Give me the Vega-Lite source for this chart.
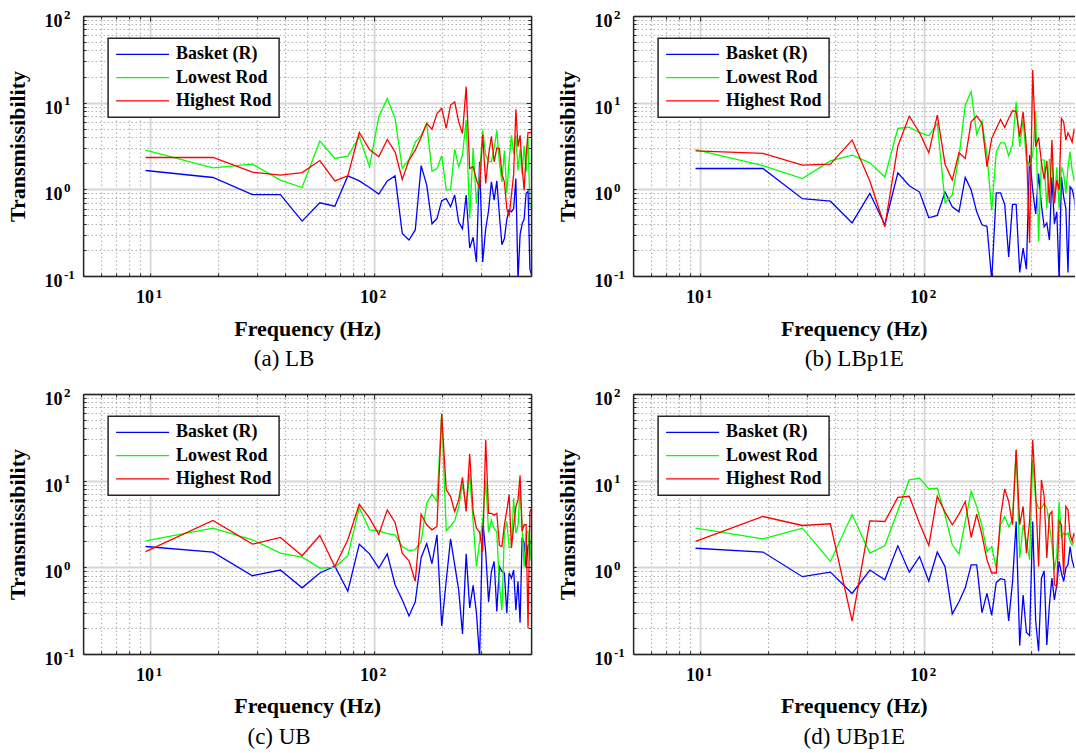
{
  "$schema": "https://vega.github.io/schema/vega-lite/v6.json",
  "background": "white",
  "autosize": {"type": "pad"},
  "padding": {"left": 6.1, "top": 8, "right": 0, "bottom": 0},
  "config": {
    "view": {"stroke": null},
    "font": "Liberation Serif",
    "axis": {"labelFont": "Liberation Serif", "labelFontSize": 18, "labelFontWeight": "bold", "labelColor": "#000000", "titleFont": "Liberation Serif", "titleFontSize": 22, "titleFontWeight": "bold", "titleColor": "#000000", "domainColor": "#262626", "domainWidth": 1.5, "tickColor": "#262626", "tickWidth": 1, "labelOverlap": false, "labelFlush": false, "labelBound": false},
    "legend": {"symbolType": "stroke", "symbolSize": 2809, "symbolStrokeWidth": 1.3, "clipHeight": 18, "rowPadding": 5.3, "padding": 7, "labelOffset": 6, "strokeColor": "#262626", "strokeWidth": 1.5, "fillColor": "#ffffff", "labelFont": "Liberation Serif", "labelFontSize": 18, "labelFontWeight": "bold", "labelColor": "#000000", "labelLimit": 300, "symbolOffset": 0},
    "title": {"orient": "bottom", "anchor": "middle", "frame": "group", "font": "Liberation Serif", "fontSize": 23, "fontWeight": "normal", "color": "#000000", "offset": 9}
  },
  "datasets": {
    "a": [
      {"f": 9.5, "B": 1.65, "L": 2.83, "H": 2.33}, {"f": 19, "B": 1.37, "L": 1.77, "H": 2.33}, {"f": 28.5, "B": 0.87, "L": 1.95, "H": 1.58}, {"f": 38, "B": 0.87, "L": 1.28, "H": 1.46}, {"f": 47.5, "B": 0.43, "L": 1.05, "H": 1.56}, {"f": 57, "B": 0.70, "L": 3.6, "H": 2.15}, {"f": 66.5, "B": 0.64, "L": 2.27, "H": 1.25}, {"f": 76, "B": 1.43, "L": 2.42, "H": 1.43}, {"f": 85.5, "B": 1.25, "L": 4.04, "H": 4.53}, {"f": 95, "B": 1.05, "L": 1.82, "H": 2.88},
      {"f": 104.5, "B": 0.88, "L": 6.9, "H": 2.37}, {"f": 114, "B": 1.25, "L": 11.2, "H": 3.76}, {"f": 123.5, "B": 1.43, "L": 6.6, "H": 2.71}, {"f": 133, "B": 0.31, "L": 1.74, "H": 1.3}, {"f": 142.5, "B": 0.26, "L": 2.2, "H": 2.17}, {"f": 152, "B": 0.34, "L": 3.5, "H": 2.83}, {"f": 161.5, "B": 1.88, "L": 4.2, "H": 4.0}, {"f": 171, "B": 1.12, "L": 5.75, "H": 5.75}, {"f": 180.5, "B": 0.40, "L": 1.62, "H": 4.95}, {"f": 190, "B": 0.46, "L": 1.74, "H": 7.5},
      {"f": 199.5, "B": 0.74, "L": 2.44, "H": 8.6}, {"f": 209, "B": 0.78, "L": 0.98, "H": 5.04}, {"f": 218.5, "B": 0.63, "L": 1.0, "H": 9.4}, {"f": 228, "B": 0.86, "L": 2.9, "H": 10.2}, {"f": 237.5, "B": 0.42, "L": 1.82, "H": 6.0}, {"f": 247, "B": 0.35, "L": 2.5, "H": 4.4}, {"f": 256.5, "B": 0.86, "L": 6.3, "H": 15.3}, {"f": 266, "B": 0.21, "L": 0.46, "H": 1.74}, {"f": 275.5, "B": 0.28, "L": 3.0, "H": 1.82}, {"f": 285, "B": 0.145, "L": 0.69, "H": 1.3},
      {"f": 294.5, "B": 2.08, "L": 1.5, "H": 1.02}, {"f": 304, "B": 0.145, "L": 4.8, "H": 4.3}, {"f": 313.5, "B": 0.35, "L": 2.5, "H": 1.17}, {"f": 323, "B": 0.57, "L": 2.1, "H": 2.5}, {"f": 332.5, "B": 1.22, "L": 2.08, "H": 4.1}, {"f": 342, "B": 0.75, "L": 3.0, "H": 2.08}, {"f": 351.5, "B": 1.25, "L": 4.8, "H": 3.0}, {"f": 361, "B": 0.5, "L": 2.0, "H": 2.96}, {"f": 370.5, "B": 0.23, "L": 1.22, "H": 1.5}, {"f": 380, "B": 0.27, "L": 2.8, "H": 1.22},
      {"f": 389.5, "B": 0.45, "L": 0.9, "H": 0.6}, {"f": 399, "B": 0.58, "L": 2.2, "H": 0.49}, {"f": 408.5, "B": 0.55, "L": 4.2, "H": 0.86}, {"f": 418, "B": 0.6, "L": 2.6, "H": 1.5}, {"f": 427.5, "B": 1.33, "L": 4.2, "H": 8.4}, {"f": 437, "B": 0.09, "L": 1.65, "H": 3.1}, {"f": 446.5, "B": 0.3, "L": 2.9, "H": 4.2}, {"f": 456, "B": 0.4, "L": 1.5, "H": 1.8}, {"f": 465.5, "B": 0.45, "L": 3.2, "H": 0.98}, {"f": 475, "B": 0.9, "L": 1.6, "H": 2.5},
      {"f": 484.5, "B": 0.95, "L": 4.0, "H": 4.5}, {"f": 494, "B": 0.12, "L": 0.63, "H": 4.5}, {"f": 503.5, "B": 0.1, "L": 0.6, "H": 4.5}
    ],
    "b": [
      {"f": 9.5, "B": 1.74, "L": 2.88, "H": 2.78}, {"f": 19, "B": 1.74, "L": 1.88, "H": 2.60}, {"f": 28.5, "B": 0.78, "L": 1.33, "H": 1.90}, {"f": 38, "B": 0.73, "L": 2.13, "H": 1.95}, {"f": 47.5, "B": 0.41, "L": 2.48, "H": 3.7}, {"f": 57, "B": 0.90, "L": 2.02, "H": 1.25}, {"f": 66.5, "B": 0.39, "L": 1.39, "H": 0.37}, {"f": 76, "B": 1.55, "L": 5.04, "H": 3.15}, {"f": 85.5, "B": 1.1, "L": 5.2, "H": 7.0}, {"f": 95, "B": 0.93, "L": 4.5, "H": 4.5},
      {"f": 104.5, "B": 0.47, "L": 4.15, "H": 2.64}, {"f": 114, "B": 0.50, "L": 5.75, "H": 7.2}, {"f": 123.5, "B": 0.93, "L": 0.70, "H": 1.95}, {"f": 133, "B": 0.63, "L": 0.86, "H": 1.28}, {"f": 142.5, "B": 0.55, "L": 2.37, "H": 2.64}, {"f": 152, "B": 1.37, "L": 9.4, "H": 2.27}, {"f": 161.5, "B": 0.98, "L": 13.4, "H": 6.0}, {"f": 171, "B": 0.55, "L": 4.3, "H": 7.0}, {"f": 180.5, "B": 0.39, "L": 6.1, "H": 5.75}, {"f": 190, "B": 0.375, "L": 2.5, "H": 1.82},
      {"f": 199.5, "B": 0.09, "L": 0.57, "H": 3.86}, {"f": 209, "B": 0.91, "L": 2.71, "H": 5.0}, {"f": 218.5, "B": 0.91, "L": 3.44, "H": 6.4}, {"f": 228, "B": 0.67, "L": 3.44, "H": 5.17}, {"f": 237.5, "B": 0.166, "L": 2.44, "H": 6.6}, {"f": 247, "B": 0.67, "L": 3.24, "H": 8.05}, {"f": 256.5, "B": 0.67, "L": 10.2, "H": 7.9}, {"f": 266, "B": 0.11, "L": 3.1, "H": 4.04}, {"f": 275.5, "B": 0.21, "L": 6.3, "H": 7.85}, {"f": 285, "B": 0.12, "L": 2.17, "H": 3.1},
      {"f": 294.5, "B": 2.48, "L": 1.9, "H": 0.24}, {"f": 304, "B": 0.98, "L": 2.5, "H": 23.8}, {"f": 313.5, "B": 0.52, "L": 8.0, "H": 3.1}, {"f": 323, "B": 1.52, "L": 0.25, "H": 3.97}, {"f": 332.5, "B": 0.66, "L": 2.2, "H": 2.08}, {"f": 342, "B": 0.37, "L": 2.17, "H": 1.3}, {"f": 351.5, "B": 0.41, "L": 0.6, "H": 2.13}, {"f": 361, "B": 0.26, "L": 2.2, "H": 0.69}, {"f": 370.5, "B": 1.39, "L": 2.17, "H": 3.7}, {"f": 380, "B": 0.40, "L": 0.69, "H": 0.69},
      {"f": 389.5, "B": 0.55, "L": 1.8, "H": 1.28}, {"f": 399, "B": 0.09, "L": 0.6, "H": 0.98}, {"f": 408.5, "B": 1.39, "L": 1.82, "H": 6.6}, {"f": 418, "B": 0.82, "L": 1.5, "H": 6.0}, {"f": 427.5, "B": 0.6, "L": 0.9, "H": 3.7}, {"f": 437, "B": 0.11, "L": 1.82, "H": 4.5}, {"f": 446.5, "B": 1.07, "L": 2.71, "H": 4.0}, {"f": 456, "B": 1.0, "L": 1.66, "H": 3.5}, {"f": 465.5, "B": 0.8, "L": 1.28, "H": 5.0}, {"f": 475, "B": 0.5, "L": 1.5, "H": 4.0},
      {"f": 484.5, "B": 0.3, "L": 1.0, "H": 3.0}, {"f": 494, "B": 0.5, "L": 2.0, "H": 4.0}, {"f": 503.5, "B": 0.5, "L": 1.5, "H": 4.0}
    ],
    "c": [
      {"f": 9.5, "B": 1.74, "L": 2.02, "H": 1.52}, {"f": 19, "B": 1.50, "L": 2.83, "H": 3.47}, {"f": 28.5, "B": 0.80, "L": 2.08, "H": 1.85}, {"f": 38, "B": 0.93, "L": 1.46, "H": 2.21}, {"f": 47.5, "B": 0.58, "L": 1.31, "H": 1.36}, {"f": 57, "B": 0.86, "L": 0.98, "H": 2.33}, {"f": 66.5, "B": 1.03, "L": 1.0, "H": 1.02}, {"f": 76, "B": 0.53, "L": 1.36, "H": 2.08}, {"f": 85.5, "B": 1.85, "L": 4.9, "H": 5.35}, {"f": 95, "B": 1.43, "L": 2.71, "H": 3.7},
      {"f": 104.5, "B": 0.98, "L": 2.64, "H": 2.4}, {"f": 114, "B": 1.43, "L": 2.45, "H": 4.6}, {"f": 123.5, "B": 0.63, "L": 2.37, "H": 3.3}, {"f": 133, "B": 0.42, "L": 1.74, "H": 1.46}, {"f": 142.5, "B": 0.275, "L": 1.56, "H": 1.19}, {"f": 152, "B": 0.40, "L": 1.6, "H": 0.69}, {"f": 161.5, "B": 1.30, "L": 1.99, "H": 4.1}, {"f": 171, "B": 1.88, "L": 5.5, "H": 3.1}, {"f": 180.5, "B": 1.10, "L": 7.0, "H": 2.71}, {"f": 190, "B": 2.37, "L": 5.75, "H": 2.96},
      {"f": 199.5, "B": 0.21, "L": 60, "H": 58.8}, {"f": 209, "B": 0.7, "L": 2.64, "H": 7.85}, {"f": 218.5, "B": 2.13, "L": 3.0, "H": 6.6}, {"f": 228, "B": 1.07, "L": 3.44, "H": 4.4}, {"f": 237.5, "B": 0.55, "L": 5.0, "H": 6.0}, {"f": 247, "B": 0.17, "L": 9.0, "H": 10.9}, {"f": 256.5, "B": 1.43, "L": 5.0, "H": 4.4}, {"f": 266, "B": 0.34, "L": 12.0, "H": 20.3}, {"f": 275.5, "B": 0.62, "L": 3.44, "H": 4.4}, {"f": 285, "B": 0.3, "L": 1.02, "H": 2.83},
      {"f": 294.5, "B": 0.09, "L": 2.0, "H": 2.55}, {"f": 304, "B": 3.53, "L": 3.4, "H": 1.52}, {"f": 313.5, "B": 1.5, "L": 10.0, "H": 29.7}, {"f": 323, "B": 0.40, "L": 2.55, "H": 4.2}, {"f": 332.5, "B": 0.90, "L": 3.5, "H": 4.2}, {"f": 342, "B": 1.17, "L": 2.8, "H": 4.0}, {"f": 351.5, "B": 0.31, "L": 2.55, "H": 4.2}, {"f": 361, "B": 1.02, "L": 0.63, "H": 1.79}, {"f": 370.5, "B": 0.9, "L": 0.32, "H": 1.74}, {"f": 380, "B": 0.86, "L": 2.55, "H": 3.1},
      {"f": 389.5, "B": 0.295, "L": 3.4, "H": 4.5}, {"f": 399, "B": 0.86, "L": 1.7, "H": 6.9}, {"f": 408.5, "B": 0.75, "L": 1.69, "H": 1.69}, {"f": 418, "B": 0.93, "L": 6.3, "H": 2.96}, {"f": 427.5, "B": 0.32, "L": 2.48, "H": 5.0}, {"f": 437, "B": 0.69, "L": 3.0, "H": 6.0}, {"f": 446.5, "B": 0.23, "L": 8.2, "H": 11.5}, {"f": 456, "B": 2.23, "L": 3.0, "H": 2.6}, {"f": 465.5, "B": 1.9, "L": 1.02, "H": 3.1}, {"f": 475, "B": 1.0, "L": 2.48, "H": 3.1},
      {"f": 484.5, "B": 1.8, "L": 2.6, "H": 0.20}, {"f": 494, "B": 1.9, "L": 1.2, "H": 4.4}, {"f": 503.5, "B": 1.9, "L": 2.5, "H": 4.8}
    ],
    "d": [
      {"f": 9.5, "B": 1.66, "L": 2.83, "H": 1.99}, {"f": 19, "B": 1.50, "L": 2.13, "H": 3.86}, {"f": 28.5, "B": 0.78, "L": 2.83, "H": 3.04}, {"f": 38, "B": 0.88, "L": 1.17, "H": 3.18}, {"f": 47.5, "B": 0.50, "L": 4.04, "H": 0.24}, {"f": 57, "B": 0.93, "L": 1.46, "H": 3.44}, {"f": 66.5, "B": 0.72, "L": 1.77, "H": 3.38}, {"f": 76, "B": 1.77, "L": 4.5, "H": 6.4}, {"f": 85.5, "B": 0.88, "L": 10.2, "H": 6.6}, {"f": 95, "B": 1.33, "L": 10.7, "H": 3.2},
      {"f": 104.5, "B": 0.69, "L": 8.05, "H": 1.79}, {"f": 114, "B": 1.50, "L": 8.2, "H": 6.6}, {"f": 123.5, "B": 1.02, "L": 4.04, "H": 4.34}, {"f": 133, "B": 0.29, "L": 1.82, "H": 3.1}, {"f": 142.5, "B": 0.40, "L": 1.42, "H": 4.1}, {"f": 152, "B": 0.58, "L": 3.38, "H": 5.75}, {"f": 161.5, "B": 1.07, "L": 7.5, "H": 2.21}, {"f": 171, "B": 1.07, "L": 5.04, "H": 4.1}, {"f": 180.5, "B": 0.30, "L": 3.0, "H": 2.37}, {"f": 190, "B": 0.50, "L": 1.52, "H": 1.22},
      {"f": 199.5, "B": 0.28, "L": 1.74, "H": 0.86}, {"f": 209, "B": 0.67, "L": 0.98, "H": 0.86}, {"f": 218.5, "B": 0.74, "L": 3.1, "H": 3.86}, {"f": 228, "B": 0.72, "L": 3.86, "H": 8.05}, {"f": 237.5, "B": 0.24, "L": 2.96, "H": 5.75}, {"f": 247, "B": 0.67, "L": 3.53, "H": 3.1}, {"f": 256.5, "B": 3.38, "L": 22.7, "H": 22.7}, {"f": 266, "B": 0.125, "L": 1.28, "H": 3.1}, {"f": 275.5, "B": 0.48, "L": 3.1, "H": 5.04}, {"f": 285, "B": 0.177, "L": 2.0, "H": 1.46},
      {"f": 294.5, "B": 0.163, "L": 1.22, "H": 3.38}, {"f": 304, "B": 3.38, "L": 17.4, "H": 29.7}, {"f": 313.5, "B": 0.24, "L": 6.0, "H": 7.2}, {"f": 323, "B": 0.108, "L": 4.8, "H": 1.02}, {"f": 332.5, "B": 0.75, "L": 4.8, "H": 10.2}, {"f": 342, "B": 0.91, "L": 5.5, "H": 6.6}, {"f": 351.5, "B": 0.127, "L": 4.8, "H": 1.28}, {"f": 361, "B": 0.37, "L": 3.1, "H": 4.04}, {"f": 370.5, "B": 0.75, "L": 1.82, "H": 4.4}, {"f": 380, "B": 0.42, "L": 0.93, "H": 0.63},
      {"f": 389.5, "B": 0.63, "L": 1.39, "H": 0.60}, {"f": 399, "B": 1.17, "L": 5.75, "H": 3.44}, {"f": 408.5, "B": 0.86, "L": 2.17, "H": 3.1}, {"f": 418, "B": 0.69, "L": 2.48, "H": 0.82}, {"f": 427.5, "B": 0.98, "L": 2.37, "H": 5.04}, {"f": 437, "B": 1.07, "L": 2.5, "H": 4.6}, {"f": 446.5, "B": 1.74, "L": 2.0, "H": 2.37}, {"f": 456, "B": 1.2, "L": 1.8, "H": 2.0}, {"f": 465.5, "B": 1.0, "L": 2.0, "H": 2.5}, {"f": 475, "B": 1.0, "L": 2.0, "H": 2.0},
      {"f": 484.5, "B": 1.0, "L": 2.0, "H": 2.0}, {"f": 494, "B": 1.0, "L": 2.0, "H": 2.0}, {"f": 503.5, "B": 1.0, "L": 2.0, "H": 2.0}
    ]
  },
  "columns": 2,
  "spacing": {"row": 118, "column": 102},
  "bounds": "flush",
  "resolve": {"scale": {"color": "independent", "x": "independent", "y": "independent"}, "legend": {"color": "independent"}},
  "concat": [
    {
      "width": 448, "height": 260,
      "data": {"name": "a"},
      "transform": [{"fold": ["B", "L", "H"], "as": ["s", "v"]}],
      "title": {"text": "(a) LB", "dx": -23},
      "resolve": {"axis": {"x": "independent", "y": "independent"}},
      "layer": [
        {
          "mark": {"type": "line", "clip": true, "strokeWidth": 1.3},
          "encoding": {
            "x": {"field": "f", "type": "quantitative", "scale": {"type": "log", "domain": [5, 500], "nice": false},
              "axis": {"orient": "bottom", "values": [5,6,7,8,9,10,20,30,40,50,60,70,80,90,100,200,300,400,500], "labelExpr": "datum.value == 10 || datum.value == 100 ? '10' : ''", "labelAlign": "right", "labelOffset": 3, "grid": true,
                "gridColor": {"condition": {"test": "datum.value == 10 || datum.value == 100", "value": "#d6d6d6"}, "value": "#b0b0b0"},
                "gridDash": {"condition": {"test": "datum.value == 10 || datum.value == 100", "value": []}, "value": [1.5, 2.5]},
                "gridWidth": {"condition": {"test": "datum.value == 10 || datum.value == 100", "value": 1.8}, "value": 1.1},
                "tickSize": -3, "labelPadding": 15.5, "minExtent": 30, "maxExtent": 30, "title": "Frequency (Hz)", "titlePadding": 12}},
            "y": {"field": "v", "type": "quantitative", "scale": {"type": "log", "domain": [0.1, 100], "nice": false},
              "axis": {"orient": "left", "values": [0.1,0.2,0.3,0.4,0.5,0.6,0.7,0.8,0.9,1,2,3,4,5,6,7,8,9,10,20,30,40,50,60,70,80,90,100], "labelExpr": "datum.value == 0.1 || datum.value == 1 || datum.value == 10 || datum.value == 100 ? '10' : ''", "grid": true,
                "gridColor": {"condition": {"test": "datum.value == 0.1 || datum.value == 1 || datum.value == 10 || datum.value == 100", "value": "#d6d6d6"}, "value": "#b0b0b0"},
                "gridDash": {"condition": {"test": "datum.value == 0.1 || datum.value == 1 || datum.value == 10 || datum.value == 100", "value": []}, "value": [1.5, 2.5]},
                "gridWidth": {"condition": {"test": "datum.value == 0.1 || datum.value == 1 || datum.value == 10 || datum.value == 100", "value": 1.8}, "value": 1.1},
                "tickSize": -3, "labelPadding": 24.1, "labelOffset": 5.5, "minExtent": 44, "maxExtent": 44, "title": "Transmissibility", "titlePadding": 10}},
            "color": {"field": "s", "type": "nominal", "scale": {"domain": ["B", "L", "H"], "range": ["#0000ff", "#00ff00", "#ff0000"]},
              "legend": {"title": null, "orient": "none", "legendX": 25, "legendY": 22.3, "labelExpr": "datum.value == 'B' ? 'Basket (R)' : datum.value == 'L' ? 'Lowest Rod' : 'Highest Rod'"}}
          }
        },
        {
          "mark": {"type": "line", "clip": true, "opacity": 0},
          "encoding": {
            "x": {"field": "f", "type": "quantitative", "scale": {"type": "log", "domain": [5, 500], "nice": false},
              "axis": {"orient": "top", "values": [5,6,7,8,9,10,20,30,40,50,60,70,80,90,100,200,300,400,500], "labels": false, "grid": false, "title": null, "zindex": 1,
                "tickSize": {"condition": {"test": "datum.value == 10 || datum.value == 100", "value": -5}, "value": -3}}},
            "y": {"field": "v", "type": "quantitative", "scale": {"type": "log", "domain": [0.1, 100], "nice": false},
              "axis": {"orient": "right", "values": [0.1,0.2,0.3,0.4,0.5,0.6,0.7,0.8,0.9,1,2,3,4,5,6,7,8,9,10,20,30,40,50,60,70,80,90,100], "labels": false, "grid": false, "title": null, "zindex": 1,
                "tickSize": {"condition": {"test": "datum.value == 0.1 || datum.value == 1 || datum.value == 10 || datum.value == 100", "value": -5}, "value": -3}}},
            "detail": {"field": "s"}
          }
        },
        {
          "mark": {"type": "line", "clip": true, "opacity": 0},
          "encoding": {
            "x": {"field": "f", "type": "quantitative", "scale": {"type": "log", "domain": [5, 500], "nice": false},
              "axis": {"orient": "bottom", "values": [10, 100], "labelExpr": "datum.value == 10 ? '1' : '2'", "labelAlign": "left", "labelOffset": 4.7, "labelPadding": 11.4, "labelFontSize": 13, "ticks": false, "domain": false, "grid": false, "title": null}},
            "y": {"field": "v", "type": "quantitative", "scale": {"type": "log", "domain": [0.1, 100], "nice": false},
              "axis": {"orient": "left", "values": [0.1, 1, 10, 100], "labelExpr": "datum.value == 0.1 ? '-1' : datum.value == 1 ? '0' : datum.value == 10 ? '1' : '2'", "labelAlign": "left", "labelBaseline": "middle", "labelOffset": -1.8, "labelPadding": 19.6, "labelFontSize": 13, "ticks": false, "domain": false, "grid": false, "title": null}},
            "detail": {"field": "s"}
          }
        }
      ]
    },
    {
      "width": 441.4, "height": 260,
      "data": {"name": "b"},
      "transform": [{"fold": ["B", "L", "H"], "as": ["s", "v"]}],
      "title": {"text": "(b) LBp1E", "dx": 0.5},
      "resolve": {"axis": {"x": "independent", "y": "independent"}},
      "layer": [
        {
          "mark": {"type": "line", "clip": true, "strokeWidth": 1.3},
          "encoding": {
            "x": {"field": "f", "type": "quantitative", "scale": {"type": "log", "domain": [5, 467.2], "nice": false},
              "axis": {"orient": "bottom", "values": [5,6,7,8,9,10,20,30,40,50,60,70,80,90,100,200,300,400], "labelExpr": "datum.value == 10 || datum.value == 100 ? '10' : ''", "labelAlign": "right", "labelOffset": 3, "grid": true,
                "gridColor": {"condition": {"test": "datum.value == 10 || datum.value == 100", "value": "#d6d6d6"}, "value": "#b0b0b0"},
                "gridDash": {"condition": {"test": "datum.value == 10 || datum.value == 100", "value": []}, "value": [1.5, 2.5]},
                "gridWidth": {"condition": {"test": "datum.value == 10 || datum.value == 100", "value": 1.8}, "value": 1.1},
                "tickSize": -3, "labelPadding": 15.5, "minExtent": 30, "maxExtent": 30, "title": "Frequency (Hz)", "titlePadding": 12}},
            "y": {"field": "v", "type": "quantitative", "scale": {"type": "log", "domain": [0.1, 100], "nice": false},
              "axis": {"orient": "left", "values": [0.1,0.2,0.3,0.4,0.5,0.6,0.7,0.8,0.9,1,2,3,4,5,6,7,8,9,10,20,30,40,50,60,70,80,90,100], "labelExpr": "datum.value == 0.1 || datum.value == 1 || datum.value == 10 || datum.value == 100 ? '10' : ''", "grid": true,
                "gridColor": {"condition": {"test": "datum.value == 0.1 || datum.value == 1 || datum.value == 10 || datum.value == 100", "value": "#d6d6d6"}, "value": "#b0b0b0"},
                "gridDash": {"condition": {"test": "datum.value == 0.1 || datum.value == 1 || datum.value == 10 || datum.value == 100", "value": []}, "value": [1.5, 2.5]},
                "gridWidth": {"condition": {"test": "datum.value == 0.1 || datum.value == 1 || datum.value == 10 || datum.value == 100", "value": 1.8}, "value": 1.1},
                "tickSize": -3, "labelPadding": 24.1, "labelOffset": 5.5, "minExtent": 44, "maxExtent": 44, "title": "Transmissibility", "titlePadding": 10}},
            "color": {"field": "s", "type": "nominal", "scale": {"domain": ["B", "L", "H"], "range": ["#0000ff", "#00ff00", "#ff0000"]},
              "legend": {"title": null, "orient": "none", "legendX": 25, "legendY": 22.3, "labelExpr": "datum.value == 'B' ? 'Basket (R)' : datum.value == 'L' ? 'Lowest Rod' : 'Highest Rod'"}}
          }
        },
        {
          "mark": {"type": "line", "clip": true, "opacity": 0},
          "encoding": {
            "x": {"field": "f", "type": "quantitative", "scale": {"type": "log", "domain": [5, 467.2], "nice": false},
              "axis": {"orient": "top", "values": [5,6,7,8,9,10,20,30,40,50,60,70,80,90,100,200,300,400], "labels": false, "grid": false, "title": null, "zindex": 1,
                "tickSize": {"condition": {"test": "datum.value == 10 || datum.value == 100", "value": -5}, "value": -3}}},
            "y": {"field": "v", "type": "quantitative", "scale": {"type": "log", "domain": [0.1, 100], "nice": false}, "axis": null},
            "detail": {"field": "s"}
          }
        },
        {
          "mark": {"type": "line", "clip": true, "opacity": 0},
          "encoding": {
            "x": {"field": "f", "type": "quantitative", "scale": {"type": "log", "domain": [5, 467.2], "nice": false},
              "axis": {"orient": "bottom", "values": [10, 100], "labelExpr": "datum.value == 10 ? '1' : '2'", "labelAlign": "left", "labelOffset": 4.7, "labelPadding": 11.4, "labelFontSize": 13, "ticks": false, "domain": false, "grid": false, "title": null}},
            "y": {"field": "v", "type": "quantitative", "scale": {"type": "log", "domain": [0.1, 100], "nice": false},
              "axis": {"orient": "left", "values": [0.1, 1, 10, 100], "labelExpr": "datum.value == 0.1 ? '-1' : datum.value == 1 ? '0' : datum.value == 10 ? '1' : '2'", "labelAlign": "left", "labelBaseline": "middle", "labelOffset": -1.8, "labelPadding": 19.6, "labelFontSize": 13, "ticks": false, "domain": false, "grid": false, "title": null}},
            "detail": {"field": "s"}
          }
        }
      ]
    },
    {
      "width": 448, "height": 260,
      "data": {"name": "c"},
      "transform": [{"fold": ["B", "L", "H"], "as": ["s", "v"]}],
      "title": {"text": "(c) UB", "dx": -28},
      "resolve": {"axis": {"x": "independent", "y": "independent"}},
      "layer": [
        {
          "mark": {"type": "line", "clip": true, "strokeWidth": 1.3},
          "encoding": {
            "x": {"field": "f", "type": "quantitative", "scale": {"type": "log", "domain": [5, 500], "nice": false},
              "axis": {"orient": "bottom", "values": [5,6,7,8,9,10,20,30,40,50,60,70,80,90,100,200,300,400,500], "labelExpr": "datum.value == 10 || datum.value == 100 ? '10' : ''", "labelAlign": "right", "labelOffset": 3, "grid": true,
                "gridColor": {"condition": {"test": "datum.value == 10 || datum.value == 100", "value": "#d6d6d6"}, "value": "#b0b0b0"},
                "gridDash": {"condition": {"test": "datum.value == 10 || datum.value == 100", "value": []}, "value": [1.5, 2.5]},
                "gridWidth": {"condition": {"test": "datum.value == 10 || datum.value == 100", "value": 1.8}, "value": 1.1},
                "tickSize": -3, "labelPadding": 15.5, "minExtent": 30, "maxExtent": 30, "title": "Frequency (Hz)", "titlePadding": 12}},
            "y": {"field": "v", "type": "quantitative", "scale": {"type": "log", "domain": [0.1, 100], "nice": false},
              "axis": {"orient": "left", "values": [0.1,0.2,0.3,0.4,0.5,0.6,0.7,0.8,0.9,1,2,3,4,5,6,7,8,9,10,20,30,40,50,60,70,80,90,100], "labelExpr": "datum.value == 0.1 || datum.value == 1 || datum.value == 10 || datum.value == 100 ? '10' : ''", "grid": true,
                "gridColor": {"condition": {"test": "datum.value == 0.1 || datum.value == 1 || datum.value == 10 || datum.value == 100", "value": "#d6d6d6"}, "value": "#b0b0b0"},
                "gridDash": {"condition": {"test": "datum.value == 0.1 || datum.value == 1 || datum.value == 10 || datum.value == 100", "value": []}, "value": [1.5, 2.5]},
                "gridWidth": {"condition": {"test": "datum.value == 0.1 || datum.value == 1 || datum.value == 10 || datum.value == 100", "value": 1.8}, "value": 1.1},
                "tickSize": -3, "labelPadding": 24.1, "labelOffset": 5.5, "minExtent": 44, "maxExtent": 44, "title": "Transmissibility", "titlePadding": 10}},
            "color": {"field": "s", "type": "nominal", "scale": {"domain": ["B", "L", "H"], "range": ["#0000ff", "#00ff00", "#ff0000"]},
              "legend": {"title": null, "orient": "none", "legendX": 25, "legendY": 22.3, "labelExpr": "datum.value == 'B' ? 'Basket (R)' : datum.value == 'L' ? 'Lowest Rod' : 'Highest Rod'"}}
          }
        },
        {
          "mark": {"type": "line", "clip": true, "opacity": 0},
          "encoding": {
            "x": {"field": "f", "type": "quantitative", "scale": {"type": "log", "domain": [5, 500], "nice": false},
              "axis": {"orient": "top", "values": [5,6,7,8,9,10,20,30,40,50,60,70,80,90,100,200,300,400,500], "labels": false, "grid": false, "title": null, "zindex": 1,
                "tickSize": {"condition": {"test": "datum.value == 10 || datum.value == 100", "value": -5}, "value": -3}}},
            "y": {"field": "v", "type": "quantitative", "scale": {"type": "log", "domain": [0.1, 100], "nice": false},
              "axis": {"orient": "right", "values": [0.1,0.2,0.3,0.4,0.5,0.6,0.7,0.8,0.9,1,2,3,4,5,6,7,8,9,10,20,30,40,50,60,70,80,90,100], "labels": false, "grid": false, "title": null, "zindex": 1,
                "tickSize": {"condition": {"test": "datum.value == 0.1 || datum.value == 1 || datum.value == 10 || datum.value == 100", "value": -5}, "value": -3}}},
            "detail": {"field": "s"}
          }
        },
        {
          "mark": {"type": "line", "clip": true, "opacity": 0},
          "encoding": {
            "x": {"field": "f", "type": "quantitative", "scale": {"type": "log", "domain": [5, 500], "nice": false},
              "axis": {"orient": "bottom", "values": [10, 100], "labelExpr": "datum.value == 10 ? '1' : '2'", "labelAlign": "left", "labelOffset": 4.7, "labelPadding": 11.4, "labelFontSize": 13, "ticks": false, "domain": false, "grid": false, "title": null}},
            "y": {"field": "v", "type": "quantitative", "scale": {"type": "log", "domain": [0.1, 100], "nice": false},
              "axis": {"orient": "left", "values": [0.1, 1, 10, 100], "labelExpr": "datum.value == 0.1 ? '-1' : datum.value == 1 ? '0' : datum.value == 10 ? '1' : '2'", "labelAlign": "left", "labelBaseline": "middle", "labelOffset": -1.8, "labelPadding": 19.6, "labelFontSize": 13, "ticks": false, "domain": false, "grid": false, "title": null}},
            "detail": {"field": "s"}
          }
        }
      ]
    },
    {
      "width": 441.4, "height": 260,
      "data": {"name": "d"},
      "transform": [{"fold": ["B", "L", "H"], "as": ["s", "v"]}],
      "title": {"text": "(d) UBp1E", "dx": 0.5},
      "resolve": {"axis": {"x": "independent", "y": "independent"}},
      "layer": [
        {
          "mark": {"type": "line", "clip": true, "strokeWidth": 1.3},
          "encoding": {
            "x": {"field": "f", "type": "quantitative", "scale": {"type": "log", "domain": [5, 467.2], "nice": false},
              "axis": {"orient": "bottom", "values": [5,6,7,8,9,10,20,30,40,50,60,70,80,90,100,200,300,400], "labelExpr": "datum.value == 10 || datum.value == 100 ? '10' : ''", "labelAlign": "right", "labelOffset": 3, "grid": true,
                "gridColor": {"condition": {"test": "datum.value == 10 || datum.value == 100", "value": "#d6d6d6"}, "value": "#b0b0b0"},
                "gridDash": {"condition": {"test": "datum.value == 10 || datum.value == 100", "value": []}, "value": [1.5, 2.5]},
                "gridWidth": {"condition": {"test": "datum.value == 10 || datum.value == 100", "value": 1.8}, "value": 1.1},
                "tickSize": -3, "labelPadding": 15.5, "minExtent": 30, "maxExtent": 30, "title": "Frequency (Hz)", "titlePadding": 12}},
            "y": {"field": "v", "type": "quantitative", "scale": {"type": "log", "domain": [0.1, 100], "nice": false},
              "axis": {"orient": "left", "values": [0.1,0.2,0.3,0.4,0.5,0.6,0.7,0.8,0.9,1,2,3,4,5,6,7,8,9,10,20,30,40,50,60,70,80,90,100], "labelExpr": "datum.value == 0.1 || datum.value == 1 || datum.value == 10 || datum.value == 100 ? '10' : ''", "grid": true,
                "gridColor": {"condition": {"test": "datum.value == 0.1 || datum.value == 1 || datum.value == 10 || datum.value == 100", "value": "#d6d6d6"}, "value": "#b0b0b0"},
                "gridDash": {"condition": {"test": "datum.value == 0.1 || datum.value == 1 || datum.value == 10 || datum.value == 100", "value": []}, "value": [1.5, 2.5]},
                "gridWidth": {"condition": {"test": "datum.value == 0.1 || datum.value == 1 || datum.value == 10 || datum.value == 100", "value": 1.8}, "value": 1.1},
                "tickSize": -3, "labelPadding": 24.1, "labelOffset": 5.5, "minExtent": 44, "maxExtent": 44, "title": "Transmissibility", "titlePadding": 10}},
            "color": {"field": "s", "type": "nominal", "scale": {"domain": ["B", "L", "H"], "range": ["#0000ff", "#00ff00", "#ff0000"]},
              "legend": {"title": null, "orient": "none", "legendX": 25, "legendY": 22.3, "labelExpr": "datum.value == 'B' ? 'Basket (R)' : datum.value == 'L' ? 'Lowest Rod' : 'Highest Rod'"}}
          }
        },
        {
          "mark": {"type": "line", "clip": true, "opacity": 0},
          "encoding": {
            "x": {"field": "f", "type": "quantitative", "scale": {"type": "log", "domain": [5, 467.2], "nice": false},
              "axis": {"orient": "top", "values": [5,6,7,8,9,10,20,30,40,50,60,70,80,90,100,200,300,400], "labels": false, "grid": false, "title": null, "zindex": 1,
                "tickSize": {"condition": {"test": "datum.value == 10 || datum.value == 100", "value": -5}, "value": -3}}},
            "y": {"field": "v", "type": "quantitative", "scale": {"type": "log", "domain": [0.1, 100], "nice": false}, "axis": null},
            "detail": {"field": "s"}
          }
        },
        {
          "mark": {"type": "line", "clip": true, "opacity": 0},
          "encoding": {
            "x": {"field": "f", "type": "quantitative", "scale": {"type": "log", "domain": [5, 467.2], "nice": false},
              "axis": {"orient": "bottom", "values": [10, 100], "labelExpr": "datum.value == 10 ? '1' : '2'", "labelAlign": "left", "labelOffset": 4.7, "labelPadding": 11.4, "labelFontSize": 13, "ticks": false, "domain": false, "grid": false, "title": null}},
            "y": {"field": "v", "type": "quantitative", "scale": {"type": "log", "domain": [0.1, 100], "nice": false},
              "axis": {"orient": "left", "values": [0.1, 1, 10, 100], "labelExpr": "datum.value == 0.1 ? '-1' : datum.value == 1 ? '0' : datum.value == 10 ? '1' : '2'", "labelAlign": "left", "labelBaseline": "middle", "labelOffset": -1.8, "labelPadding": 19.6, "labelFontSize": 13, "ticks": false, "domain": false, "grid": false, "title": null}},
            "detail": {"field": "s"}
          }
        }
      ]
    }
  ]
}
